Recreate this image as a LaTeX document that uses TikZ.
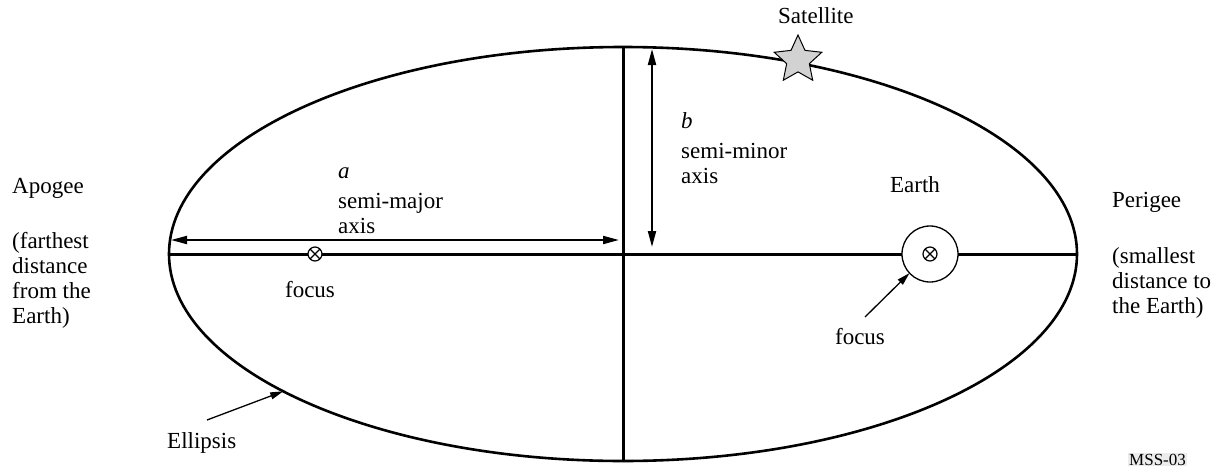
\documentclass[tikz,border=0pt]{standalone}
\usepackage{fontspec}
\setmainfont{Liberation Serif}
\usetikzlibrary{shapes.geometric, arrows.meta, positioning}

\begin{document}
\begin{tikzpicture}[x=1pt, y=-1pt,
    orbitline/.style={line width=2.6pt},
    axisline/.style={line width=3pt},
    dimarrow/.style={{Triangle[length=16pt, width=8pt]}-{Triangle[length=16pt, width=8pt]}, line width=2pt},
    pointer/.style={-{Triangle[length=13pt, width=7pt]}, line width=1.3pt},
    focal/.style={circle, draw, fill=white, line width=1.2pt, minimum size=14pt, inner sep=0pt,
        path picture={\draw[line width=1.2pt] (path picture bounding box.south west) -- (path picture bounding box.north east)
            (path picture bounding box.north west) -- (path picture bounding box.south east);}},
    txt/.style={font=\fontsize{23}{25}\selectfont, inner sep=0pt, align=left},
    tag/.style={font=\fontsize{17}{19}\selectfont, fill=gray!15, inner sep=1pt}
]
\useasboundingbox (0,0) rectangle (1219,469);

\node[ellipse, draw, orbitline, minimum width=908pt, minimum height=414pt, inner sep=0pt, outer sep=0pt] (orbit) at (623,254) {};
\node[circle, draw, line width=1.3pt, minimum size=56pt, inner sep=0pt, outer sep=0pt] (earth) at (930,254) {};

\draw[axisline] (orbit.west) -- (earth.west);
\draw[axisline] (earth.east) -- (orbit.east);
\draw[axisline] (orbit.north) -- (orbit.south);

\node[focal] (focusleft) at (315,254) {};
\node[focal] (focusright) at (930,254) {};

\node[star, star points=5, star point ratio=2.1, minimum size=50pt, draw, fill=gray!35, line width=1pt, inner sep=0pt] (satellite) at (798,60) {};

\coordinate (aleft) at (171,240);
\coordinate (aright) at (619,240);
\coordinate (btop) at (652,49);
\coordinate (bbottom) at (652,247);
\coordinate (ellipsistail) at (207,420);
\coordinate (earthtail) at (865,317);

\draw[dimarrow] (aleft) -- (aright);
\draw[dimarrow] (btop) -- (bbottom);
\draw[pointer] (ellipsistail) -- (orbit.202.5);
\draw[pointer] (earthtail) -- (earth.223);

\node[txt, anchor=base west] (apogee) at (12,193) {Apogee};
\node[txt, anchor=base west] (apogeenote) at (12,323) {(farthest\\distance\\from the\\Earth)};
\node[txt, anchor=base west] (perigee) at (1112,207) {Perigee};
\node[txt, anchor=base west] (perigeenote) at (1112,313) {(smallest\\distance to\\the Earth)};
\node[txt, anchor=base] (earthname) at (915,192) {Earth};
\node[txt, anchor=base west] (semimajor) at (338,233) {\textit{a}\\[5pt]semi-major\\axis};
\node[txt, anchor=base west] (semiminor) at (681,183) {\textit{b}\\[5pt]semi-minor\\axis};
\node[txt, anchor=base] (focusleftname) at (310,297) {focus};
\node[txt, anchor=base] (focusrightname) at (860,344) {focus};
\node[txt, anchor=base west] (ellipsisname) at (167,448) {Ellipsis};
\node[txt, anchor=base west] (satellitename) at (778,23) {Satellite};
\node[tag, anchor=base west] (figid) at (1128,465) {MSS-03};
\end{tikzpicture}
\end{document}
